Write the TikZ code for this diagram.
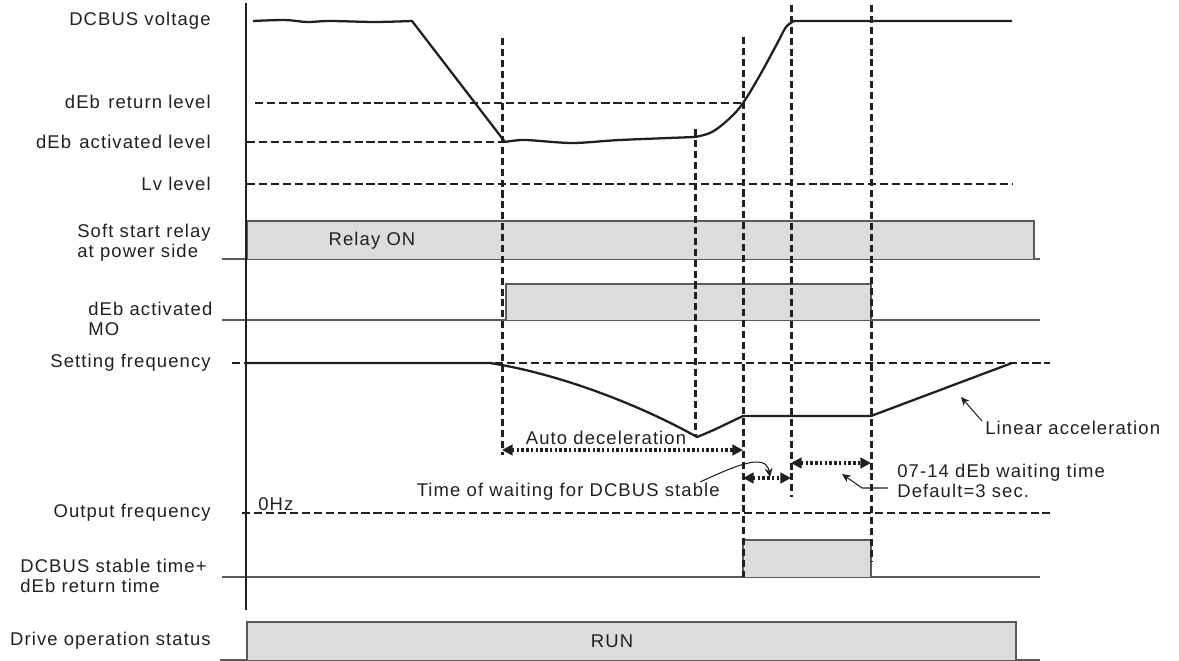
\documentclass[tikz,border=0pt]{standalone}
\usepackage{fontspec}
\setmainfont{Liberation Sans}[LetterSpace=6]
\usetikzlibrary{arrows.meta}
\definecolor{ink}{HTML}{231F20}
\definecolor{boxfill}{HTML}{DCDCDC}
\definecolor{basegray}{HTML}{5A5A5A}
\tikzset{
 lbl/.style={font=\fontsize{10.5}{11.3}\selectfont, inner sep=0pt, text=ink},
 hdash/.style={ink, line width=1.6pt, dash pattern=on 4.6pt off 2.2pt},
 vdash/.style={ink, line width=1.7pt, dash pattern=on 4pt off 2.2pt},
 sigcurve/.style={ink, line width=1.3pt, line join=round},
 sigbase/.style={basegray, line width=0.8pt},
 sigbox/.style={draw=basegray, fill=boxfill, line width=0.8pt},
 dotarrow/.style={ink, line width=1.9pt, dash pattern=on 1.4pt off 1.3pt,
   {Triangle[length=6pt,width=6pt]}-{Triangle[length=6pt,width=6pt]}},
 leaderline/.style={ink, line width=0.6pt, -{Stealth[length=5pt,width=4.5pt]}},
}
\begin{document}
\begin{tikzpicture}[x=0.02cm,y=-0.02cm]
\useasboundingbox (0,0) rectangle (1179,661);

% ---------- labels ----------
\node[lbl, anchor=east] (lDC) at (211,21) {DCBUS voltage};
\node[lbl, anchor=east] (lRet) at (211,102) {dEb\hspace{0.45em}return level};
\node[lbl, anchor=east] (lAct) at (211,142) {dEb\hspace{0.45em}activated level};
\node[lbl, anchor=east] (lLv) at (211,184) {Lv level};
\node[lbl, anchor=west, align=left] (lSoft) at (77,243) {Soft start relay\\at power side};
\node[lbl, anchor=west, align=left] (lMO) at (88,319) {dEb activated\\MO};
\node[lbl, anchor=east] (lSet) at (211,363) {Setting frequency};
\node[lbl, anchor=east] (lOut) at (211,513) {Output frequency};
\node[lbl, anchor=west, align=left] (lStab) at (20,576) {DCBUS stable time+\\dEb return time};
\node[lbl, anchor=east] (lDrive) at (211,641) {Drive operation status};

% ---------- signal boxes ----------
\draw[sigbase] (222,259) -- (1040,259);
\draw[sigbox] (247,259) -- (247,221) -- (1034,221) -- (1034,259);
\draw[sigbase] (222,320) -- (1040,320);
\draw[sigbox] (506,320) -- (506,284) -- (871,284) -- (871,320);
\draw[sigbase] (222,577) -- (1040,577);
\draw[sigbox] (743,577) -- (743,540) -- (871,540) -- (871,577);
\draw[sigbase] (220,660) -- (1040,660);
\draw[sigbox] (247,660) -- (247,622) -- (1016,622) -- (1016,660);

\node[lbl] (relay) at (372,241) {Relay ON};
\node[lbl] (run) at (612,641) {RUN};

% ---------- horizontal reference levels ----------
\draw[hdash] (255,103) -- (743,103);
\draw[hdash] (247,142) -- (505,142);
\draw[hdash] (247,184) -- (1012,184);
\draw[hdash] (232,363) -- (1050,363);
\draw[hdash] (242,513) -- (1050,513);

% ---------- vertical time markers ----------
\draw[vdash] (502,38) -- (502,455);
\draw[vdash] (695,129) -- (695,437);
\draw[vdash] (743,37) -- (743,577);
\draw[vdash] (791,5) -- (791,497);
\draw[vdash] (871,5) -- (871,562);

% ---------- axis ----------
\draw[ink, line width=1.5pt] (246,3) -- (246,610);

% ---------- DCBUS voltage ----------
\draw[sigcurve] plot[smooth, tension=0.5] coordinates {(253,21) (285,20) (307,22) (330,21) (375,22) (412,21)}
  -- (505,142)
  plot[smooth, tension=0.5] coordinates {(505,142) (525,140) (572,143) (620,140) (695,137)}
  plot[smooth, tension=0.6] coordinates {(695,137) (712,132) (730,118) (743,103) (760,75) (779,40) (786,27) (794,21)}
  -- (1012,21);

% ---------- setting / output frequency ----------
\draw[sigcurve] (247,363) -- (490,363)
  .. controls (560,374) and (640,405) .. (697,437)
  .. controls (715,430) and (730,422) .. (743,416)
  -- (871,416) -- (1012,363);

% ---------- annotations ----------
\node[lbl] (tAuto) at (606,438) {Auto deceleration};
\coordinate (aL) at (502,450);
\coordinate (aR) at (743,450);
\draw[dotarrow] (aL) -- (aR);

\coordinate (wL) at (743,478);
\coordinate (wR) at (791,478);
\draw[dotarrow] (wL) -- (wR);
\node[lbl, anchor=east] (tWait) at (720,492) {Time of waiting for DCBUS stable};
\coordinate (wTip) at (770,477);
\draw[leaderline] (700,482) .. controls (735,466) and (766,452) .. (wTip);

\coordinate (dL) at (791,463);
\coordinate (dR) at (871,463);
\draw[dotarrow] (dL) -- (dR);
\node[lbl, anchor=west, align=left] (tDeb) at (897,481) {07-14 dEb waiting time\\Default=3 sec.};
\coordinate (dTip) at (842,474);
\draw[leaderline] (888,488) -- (862,488) -- (dTip);

\node[lbl, anchor=west] (tLin) at (985,428) {Linear acceleration};
\coordinate (lTip) at (961,397);
\draw[leaderline] (982,421) -- (lTip);

\node[lbl, anchor=west] (t0) at (258,504) {0Hz};
\end{tikzpicture}
\end{document}
